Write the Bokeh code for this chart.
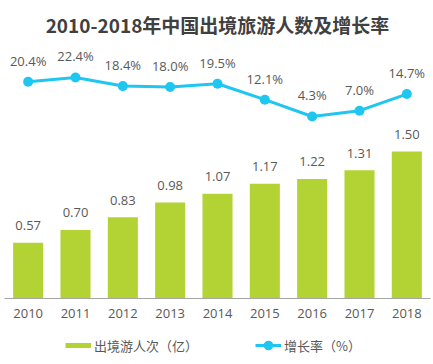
from bokeh.plotting import figure
from bokeh.layouts import column
from bokeh.models import Range1d, FixedTicker, ColumnDataSource, Legend, LegendItem
from bokeh.embed import file_html
from bokeh.resources import INLINE
from bokeh.core.properties import value

years = [2010, 2011, 2012, 2013, 2014, 2015, 2016, 2017, 2018]
travelers = [0.57, 0.70, 0.83, 0.98, 1.07, 1.17, 1.22, 1.31, 1.50]
growth = [20.4, 22.4, 18.4, 18.0, 19.5, 12.1, 4.3, 7.0, 14.7]
title_text = "2010-2018年中国出境旅游人数及增长率"
bar_name = "出境游人次（亿）"
line_name = "增长率（%）"

GREEN = "#B3D335"
CYAN = "#1FC6F0"
GRAY = "#595959"

src = ColumnDataSource(dict(
    year=years, trav=travelers, growth=growth,
    trav_lbl=[f"{v:.2f}" for v in travelers],
    growth_lbl=[f"{v:.1f}%" for v in growth],
))

p = figure(width=433, height=330, output_backend="svg", toolbar_location=None,
           x_range=Range1d(2009.5, 2018.5), y_range=Range1d(0, 2.633),
           y_axis_location=None, min_border_left=4, min_border_right=3,
           min_border_top=40, min_border_bottom=32)
p.extra_y_ranges = {"g": Range1d(-80.16, 39.56)}
p.outline_line_color = None
p.grid.visible = False

p.title.text = title_text
p.title.text_font = "Noto Sans CJK SC"
p.title.text_font_size = "19px"
p.title.text_font_style = "bold"
p.title.text_color = "#404040"
p.title.align = "center"
p.title.vertical_align = "top"
p.title.standoff = 2

bars = p.vbar(x="year", top="trav", width=0.635, source=src,
              fill_color=GREEN, line_color=None)
line = p.line(x="year", y="growth", y_range_name="g", source=src,
              line_color=CYAN, line_width=3)
dots = p.scatter(x="year", y="growth", y_range_name="g", source=src,
                 size=10, fill_color=CYAN, line_color=None)

p.text(x="year", y="trav", text="trav_lbl", source=src, y_offset=-17,
       text_align="center", text_baseline="middle",
       text_font=value("Open Sans"), text_font_size="13px", text_color=GRAY)
p.text(x="year", y="growth", text="growth_lbl", source=src, y_range_name="g",
       y_offset=-21, text_align="center", text_baseline="middle",
       text_font=value("Open Sans"), text_font_size="13px", text_color=GRAY)

ax = p.xaxis[0]
ax.ticker = FixedTicker(ticks=years)
ax.major_tick_line_color = None
ax.minor_tick_line_color = None
ax.major_tick_out = 0
ax.major_tick_in = 0
ax.major_label_standoff = 10
ax.axis_line_color = "#A6A6A6"
ax.major_label_text_font = "Open Sans"
ax.major_label_text_font_size = "13px"
ax.major_label_text_color = GRAY

# legend strip (hidden renderers only serve as legend swatches)
lf = figure(width=433, height=34, output_backend="svg", toolbar_location=None,
            x_range=Range1d(2009.5, 2018.5), y_range=Range1d(0, 2.633),
            x_axis_location=None, y_axis_location=None,
            min_border_left=0, min_border_right=0, min_border_top=0, min_border_bottom=0)
lf.outline_line_color = None
lf.grid.visible = False
sw_bar = lf.line(x="year", y="trav", source=src, line_color=GREEN,
                 line_width=5, line_cap="butt", visible=False)
sw_line = lf.line(x="year", y="growth", source=src, line_color=CYAN,
                  line_width=3, visible=False)
sw_dot = lf.scatter(x="year", y="growth", source=src, size=10,
                    fill_color=CYAN, line_color=None, visible=False)

lg = Legend(items=[LegendItem(label=bar_name, renderers=[sw_bar]),
                   LegendItem(label=line_name, renderers=[sw_line, sw_dot])],
            orientation="horizontal", location=(61, 7),
            glyph_width=26, glyph_height=24, label_standoff=3, spacing=57,
            padding=0, margin=0, border_line_color=None, background_fill_alpha=0,
            label_text_font="Noto Sans CJK SC", label_text_font_size="13px",
            label_text_color=GRAY, label_height=24)
lf.add_layout(lg)

layout = column(p, lf, spacing=0)
open("out.html", "w").write(file_html(layout, INLINE))
